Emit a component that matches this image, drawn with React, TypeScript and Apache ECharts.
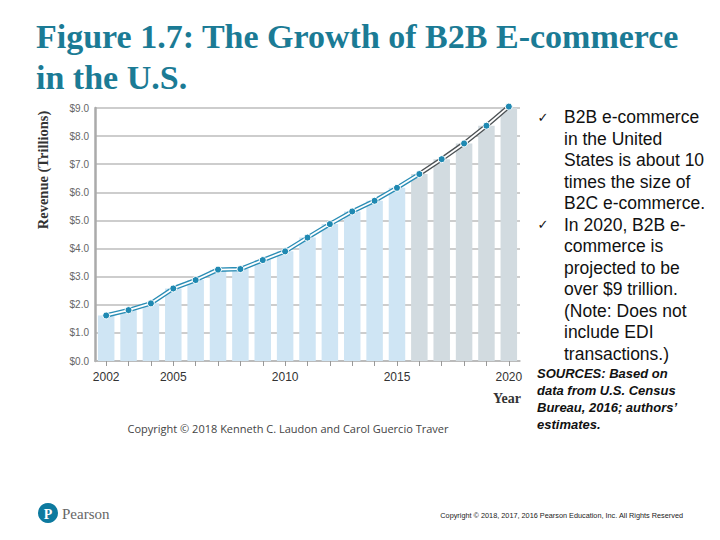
import React, { useEffect, useRef } from "react";
import * as echarts from "echarts";

const years = ["2002","2003","2004","2005","2006","2007","2008","2009","2010","2011","2012","2013","2014","2015","2016","2017","2018","2019","2020"];
const revenue = [1.62, 1.81, 2.05, 2.58, 2.88, 3.25, 3.27, 3.59, 3.9, 4.39, 4.87, 5.32, 5.7, 6.16, 6.65, 7.18, 7.74, 8.37, 9.05];
const firstForecastYear = "2016";
const shownYearLabels = ["2002", "2005", "2010", "2015", "2020"];
const yTicks = { min: 0, max: 9, interval: 1 };

const bulletLines = [
  ["✓", "B2B e-commerce"],
  ["", "in the United"],
  ["", "States is about 10"],
  ["", "times the size of"],
  ["", "B2C e-commerce."],
  ["✓", "In 2020, B2B e-"],
  ["", "commerce is"],
  ["", "projected to be"],
  ["", "over $9 trillion."],
  ["", "(Note: Does not"],
  ["", "include EDI"],
  ["", "transactions.)"],
];
const sourceLines = ["SOURCES: Based on", "data from U.S. Census", "Bureau, 2016; authors’", "estimates."];

export default function App() {
  const ref = useRef<HTMLDivElement>(null);
  useEffect(() => {
    if (!ref.current) return;
    const chart = echarts.init(ref.current, null, { renderer: "svg" });
    const fIdx = years.indexOf(firstForecastYear);
    const actualLine = revenue.map((v, i) => (i <= fIdx ? v : "-"));
    const forecastLine = revenue.map((v, i) => (i >= fIdx ? v : "-"));
    const barData = revenue.map((v, i) => ({
      value: v,
      itemStyle: { color: i >= fIdx ? "#d2dbe0" : "#cfe5f4" },
    }));

    const graphics: any[] = [
      { type: "text", left: 36, top: 19, style: { text: "Figure 1.7: The Growth of B2B E-commerce", font: "bold 34px 'Liberation Serif', 'Times New Roman', serif", fill: "#1b7b95" } },
      { type: "text", left: 36, top: 60, style: { text: "in the U.S.", font: "bold 34px 'Liberation Serif', 'Times New Roman', serif", fill: "#1b7b95" } },
      { type: "text", x: 43, y: 170, rotation: Math.PI / 2, style: { text: "Revenue (Trillions)", font: "bold 14.5px 'Liberation Serif', serif", fill: "#333", textAlign: "center", textVerticalAlign: "middle" } },
      { type: "text", x: 521, y: 398, style: { text: "Year", font: "bold 14px 'Liberation Serif', serif", fill: "#333", textAlign: "right", textVerticalAlign: "middle" } },
      { type: "text", x: 288, y: 428, style: { text: "Copyright © 2018 Kenneth C. Laudon and Carol Guercio Traver", font: "11px 'Open Sans', 'Liberation Sans', sans-serif", fill: "#444", textAlign: "center", textVerticalAlign: "middle" } },
      { type: "circle", shape: { cx: 48, cy: 513, r: 10 }, style: { fill: "#0d7a9f" } },
      { type: "text", x: 48, y: 514, style: { text: "P", font: "bold 14px 'Liberation Serif', serif", fill: "#fff", textAlign: "center", textVerticalAlign: "middle" } },
      { type: "text", x: 62, y: 514, style: { text: "Pearson", font: "15px 'Liberation Serif', serif", fill: "#666", textAlign: "left", textVerticalAlign: "middle" } },
      { type: "text", x: 683, y: 515, style: { text: "Copyright © 2018, 2017, 2016 Pearson Education, Inc. All Rights Reserved", font: "7.3px 'Liberation Sans', sans-serif", fill: "#222", textAlign: "right", textVerticalAlign: "middle" } },
    ];
    bulletLines.forEach(([mark, txt], i) => {
      const y = 117 + i * 21.5;
      if (mark) {
        graphics.push({ type: "text", x: 543, y, style: { text: mark, font: "13px 'DejaVu Sans', sans-serif", fill: "#111", textAlign: "center", textVerticalAlign: "middle" } });
      }
      graphics.push({ type: "text", x: 564, y, style: { text: txt, font: "17.5px 'Liberation Sans', Arial, sans-serif", fill: "#111", textAlign: "left", textVerticalAlign: "middle" } });
    });
    sourceLines.forEach((txt, i) => {
      graphics.push({ type: "text", x: 537, y: 373 + i * 17.3, style: { text: txt, font: "italic bold 13px 'Liberation Sans', Arial, sans-serif", fill: "#111", textAlign: "left", textVerticalAlign: "middle" } });
    });

    chart.setOption({
      animation: false,
      backgroundColor: "#fff",
      grid: { left: 95, right: 200, top: 108, bottom: 179, containLabel: false },
      xAxis: {
        type: "category",
        data: years,
        boundaryGap: true,
        axisLine: { show: true, lineStyle: { color: "#b5b5b5", width: 1.5 } },
        axisTick: { show: true, alignWithLabel: true, interval: 0, length: 5, lineStyle: { color: "#999" } },
        axisLabel: {
          interval: (_i: number, v: string) => shownYearLabels.includes(v),
          color: "#333",
          fontSize: 12,
          margin: 10,
          fontFamily: "'Liberation Sans', Arial, sans-serif",
        },
      },
      yAxis: {
        type: "value",
        min: yTicks.min,
        max: yTicks.max,
        interval: yTicks.interval,
        axisLine: { show: true, lineStyle: { color: "#aaa", width: 2.5 } },
        axisTick: { show: false },
        splitLine: { show: true, lineStyle: { color: "#bdbdbd", width: 1.5 } },
        axisLabel: {
          formatter: (v: number) => "$" + v.toFixed(1),
          color: "#666",
          fontSize: 10,
          margin: 6,
          fontFamily: "'Liberation Sans Narrow', 'Liberation Sans', sans-serif",
        },
      },
      series: [
        { type: "bar", data: barData, barWidth: 16.5, z: 1 },
        { type: "line", data: actualLine, symbol: "none", clip: false, lineStyle: { color: "#2a8db5", width: 4.5 }, z: 3 },
        { type: "line", data: forecastLine, symbol: "none", clip: false, lineStyle: { color: "#4d5255", width: 4.5 }, z: 3 },
        { type: "line", data: revenue, symbol: "none", clip: false, lineStyle: { color: "#ffffff", width: 1.8 }, z: 4 },
        { type: "line", data: revenue, symbol: "circle", symbolSize: 7, showSymbol: true, clip: false, lineStyle: { width: 0, opacity: 0 }, itemStyle: { color: "#1f89b2", borderColor: "#fff", borderWidth: 1 }, z: 5 },
      ],
      graphic: graphics,
    });
    return () => chart.dispose();
  }, []);
  return <div ref={ref} style={{ position: "fixed", left: 0, top: 0, width: 720, height: 540 }} />;
}
